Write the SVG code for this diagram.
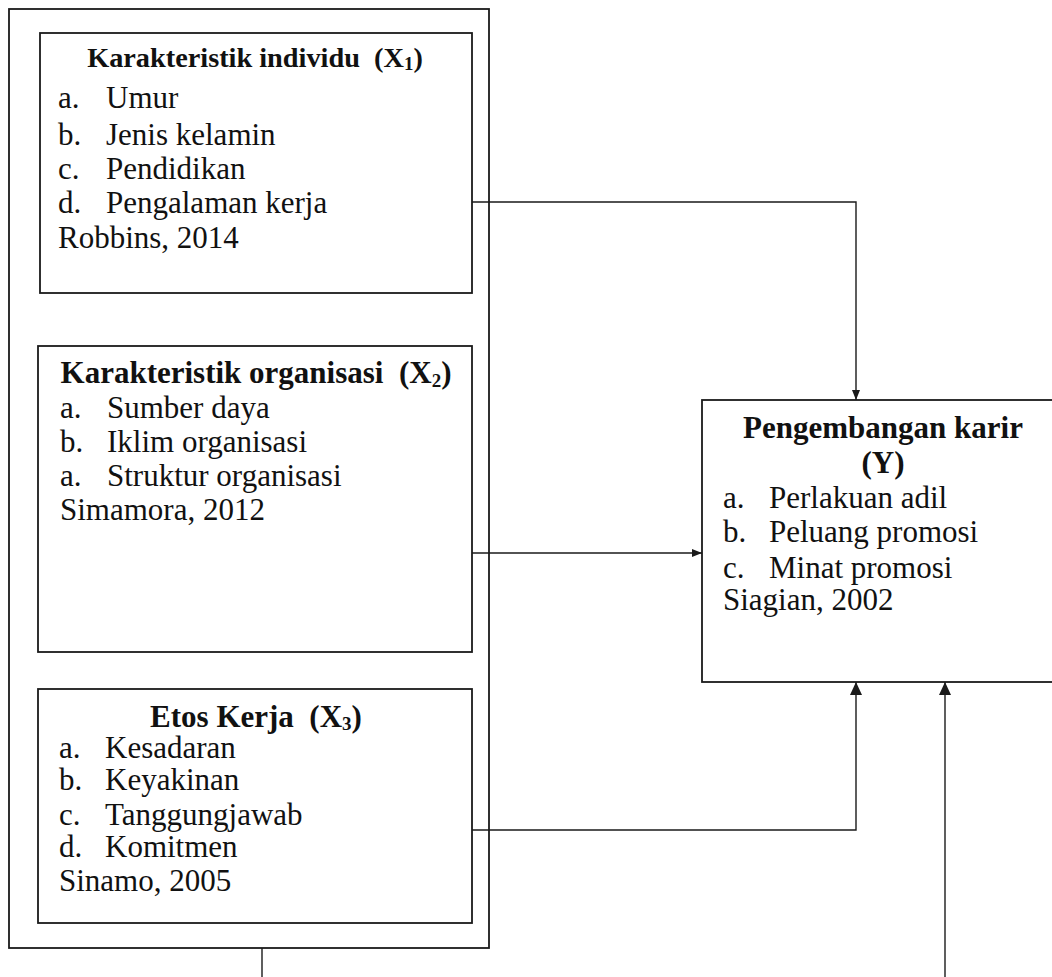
<svg xmlns="http://www.w3.org/2000/svg" width="1052" height="977" viewBox="0 0 1052 977">
<style>
.box{fill:#fff;stroke:#1a1a1a;stroke-width:1.8}
.frame{fill:none;stroke:#1a1a1a;stroke-width:1.8}
.ln{fill:none;stroke:#1a1a1a;stroke-width:1.4}
text{font-family:"Liberation Serif","Times New Roman",serif;fill:#111}
.t{font-weight:bold;font-size:31px;text-anchor:middle}
.r{font-size:31px}
.sub{font-size:19px}
</style>
<defs>
<marker id="ahS" markerUnits="userSpaceOnUse" markerWidth="10" markerHeight="8" refX="10" refY="4" orient="auto"><path d="M0,0 L10,4 L0,8 Z" fill="#1a1a1a"/></marker>
<marker id="ahL" markerUnits="userSpaceOnUse" markerWidth="13" markerHeight="12" refX="13" refY="6" orient="auto"><path d="M0,0 L13,6 L0,12 Z" fill="#1a1a1a"/></marker>
</defs>
<rect width="1052" height="977" fill="#fff"/>
<g id="frame"><rect class="frame" x="9" y="9" width="480" height="939"/></g>
<g id="connectors">
<path class="ln" d="M472,202 H856 V400" marker-end="url(#ahS)"/>
<path class="ln" d="M472,553 H702" marker-end="url(#ahS)"/>
<path class="ln" d="M472,830 H856 V682" marker-end="url(#ahL)"/>
<path class="ln" d="M262,948 V977"/>
<path class="ln" d="M945,977 V682" marker-end="url(#ahL)"/>
</g>
<g id="x1">
<rect class="box" x="40" y="33" width="432" height="260"/>
<text class="t" x="255" y="67" style="font-size:28.3px">Karakteristik individu &#160;(X<tspan class="sub" dy="3">1</tspan><tspan dy="-3">)</tspan></text>
<text class="r" x="58" y="108">a.</text><text class="r" x="106" y="108">Umur</text>
<text class="r" x="58" y="145">b.</text><text class="r" x="106" y="145">Jenis kelamin</text>
<text class="r" x="58" y="179">c.</text><text class="r" x="106" y="179">Pendidikan</text>
<text class="r" x="58" y="213">d.</text><text class="r" x="106" y="213">Pengalaman kerja</text>
<text class="r" x="58" y="248">Robbins, 2014</text>
</g>
<g id="x2">
<rect class="box" x="38" y="346" width="434" height="306"/>
<text class="t" x="256" y="383">Karakteristik organisasi &#160;(X<tspan class="sub" dy="4">2</tspan><tspan dy="-4">)</tspan></text>
<text class="r" x="60" y="418">a.</text><text class="r" x="107" y="418">Sumber daya</text>
<text class="r" x="60" y="452">b.</text><text class="r" x="107" y="452">Iklim organisasi</text>
<text class="r" x="60" y="486">a.</text><text class="r" x="107" y="486">Struktur organisasi</text>
<text class="r" x="60" y="520">Simamora, 2012</text>
</g>
<g id="x3">
<rect class="box" x="38" y="689" width="434" height="234"/>
<text class="t" x="256" y="727">Etos Kerja &#160;(X<tspan class="sub" dy="3">3</tspan><tspan dy="-3">)</tspan></text>
<text class="r" x="59" y="758">a.</text><text class="r" x="105" y="758">Kesadaran</text>
<text class="r" x="59" y="790">b.</text><text class="r" x="105" y="790">Keyakinan</text>
<text class="r" x="59" y="825">c.</text><text class="r" x="105" y="825">Tanggungjawab</text>
<text class="r" x="59" y="857">d.</text><text class="r" x="105" y="857">Komitmen</text>
<text class="r" x="59" y="891">Sinamo, 2005</text>
</g>
<g id="y">
<rect class="box" x="702" y="400" width="370" height="282"/>
<text class="t" x="883" y="438">Pengembangan karir</text>
<text class="t" x="883" y="473">(Y)</text>
<text class="r" x="723" y="508">a.</text><text class="r" x="769" y="508">Perlakuan adil</text>
<text class="r" x="723" y="542">b.</text><text class="r" x="769" y="542">Peluang promosi</text>
<text class="r" x="723" y="578">c.</text><text class="r" x="769" y="578">Minat promosi</text>
<text class="r" x="723" y="610">Siagian, 2002</text>
</g>
</svg>
